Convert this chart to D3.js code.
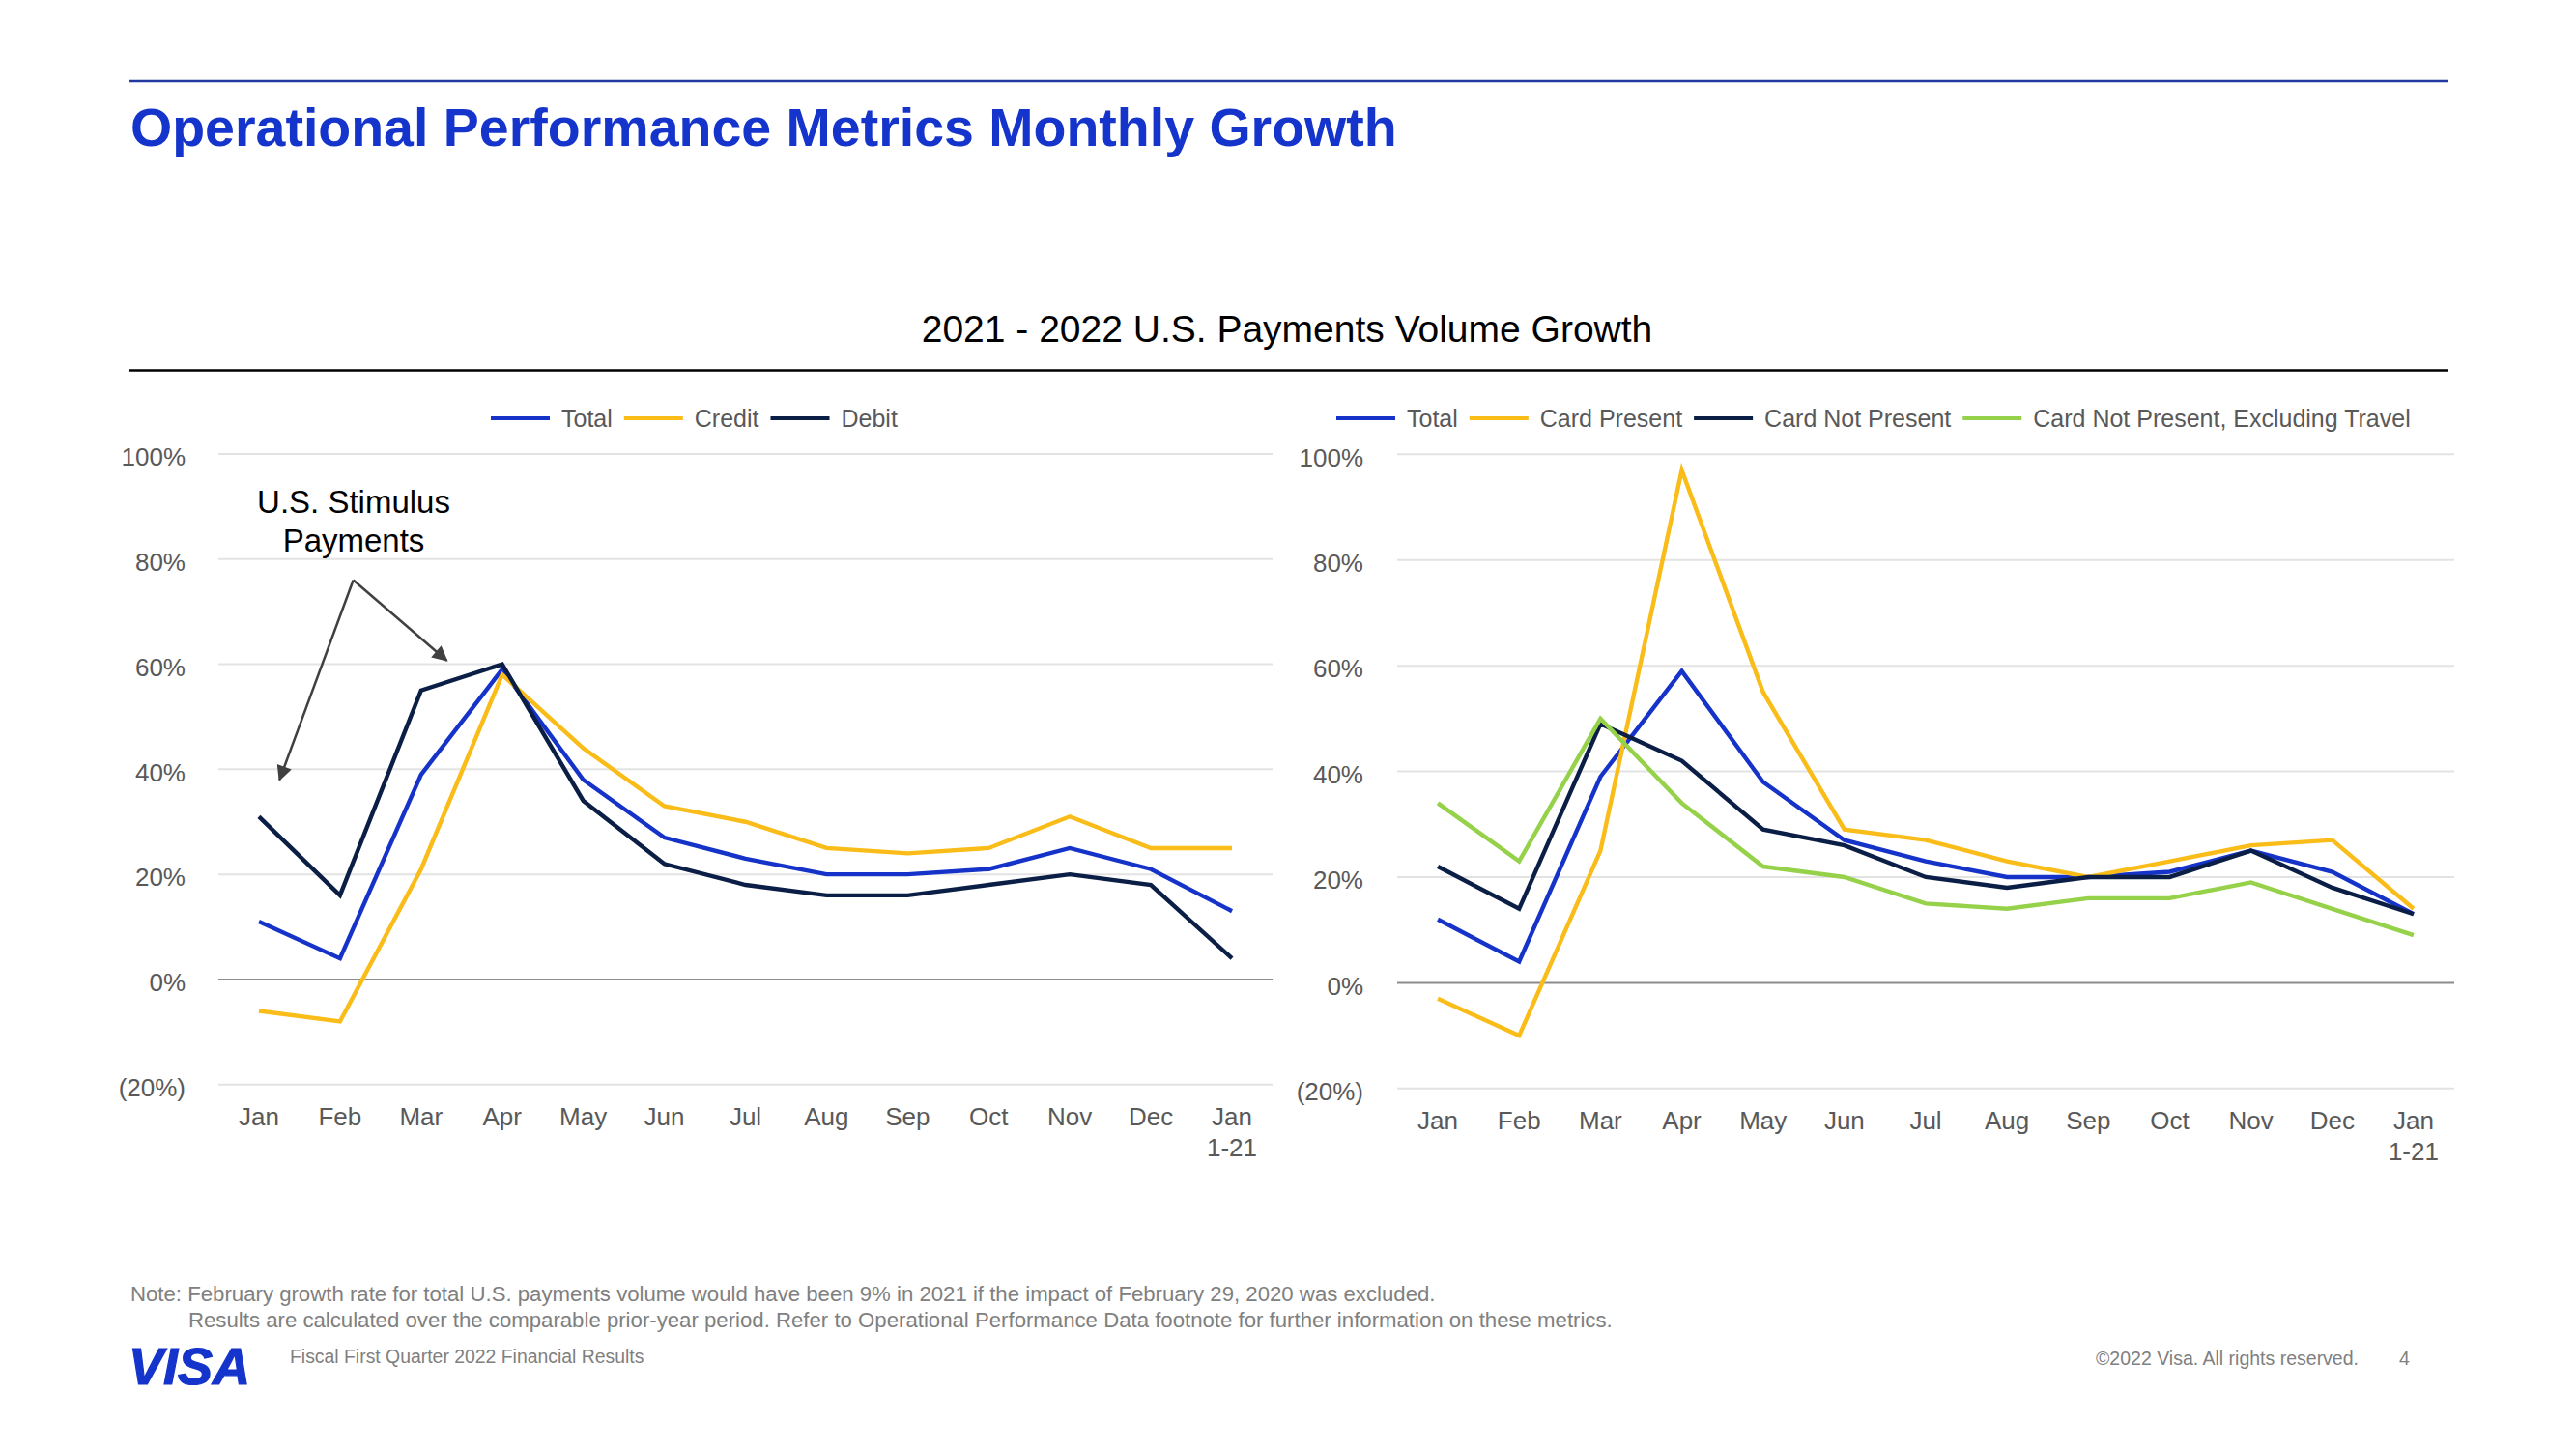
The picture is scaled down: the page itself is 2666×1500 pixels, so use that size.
<!DOCTYPE html>
<html>
<head>
<meta charset="utf-8">
<script src="https://cdn.jsdelivr.net/npm/d3@7"></script>
<style>
  html, body { margin: 0; padding: 0; background: #ffffff; }
  svg { display: block; font-family: "Liberation Sans", Arial, sans-serif; }
</style>
</head>
<body>
<svg id="chart" width="2666" height="1500"></svg>
<script>
// ---------- data ----------
const months = ["Jan", "Feb", "Mar", "Apr", "May", "Jun", "Jul", "Aug", "Sep", "Oct", "Nov", "Dec", "Jan 1-21"];
const yTicks = [-20, 0, 20, 40, 60, 80, 100];

const leftSeriesNames = ["Total", "Credit", "Debit"];
const leftTotal  = [11, 4, 39, 59, 38, 27, 23, 20, 20, 21, 25, 21, 13];
const leftCredit = [-6, -8, 21, 58, 44, 33, 30, 25, 24, 25, 31, 25, 25];
const leftDebit  = [31, 16, 55, 60, 34, 22, 18, 16, 16, 18, 20, 18, 4];

const rightSeriesNames = ["Total", "Card Present", "Card Not Present", "Card Not Present, Excluding Travel"];
const rightTotal       = [12, 4, 39, 59, 38, 27, 23, 20, 20, 21, 25, 21, 13];
const rightCardPresent = [-3, -10, 25, 97, 55, 29, 27, 23, 20, 23, 26, 27, 14];
const rightCardNotPres = [22, 14, 49, 42, 29, 26, 20, 18, 20, 20, 25, 18, 13];
const rightCNPExTravel = [34, 23, 50, 34, 22, 20, 15, 14, 16, 16, 19, 14, 9];

const colors = { total: "#1533C8", yellow: "#F9BC18", navy: "#0B1E45", green: "#96D14A" };

// ---------- helpers ----------
const svg = d3.select("#chart");
svg.append("rect").attr("width", 2666).attr("height", 1500).attr("fill", "#fff");

const fmtPct = v => v < 0 ? `(${Math.abs(v)}%)` : `${v}%`;

// header
svg.append("line").attr("x1", 134).attr("x2", 2534).attr("y1", 84).attr("y2", 84)
  .attr("stroke", "#22389E").attr("stroke-width", 2.5);
svg.append("text").attr("x", 135).attr("y", 151)
  .attr("font-size", 55.5).attr("font-weight", "bold").attr("fill", "#1434CB")
  .text("Operational Performance Metrics Monthly Growth");

svg.append("text").attr("x", 1332).attr("y", 354).attr("text-anchor", "middle")
  .attr("font-size", 39).attr("fill", "#000")
  .text("2021 - 2022 U.S. Payments Volume Growth");
svg.append("line").attr("x1", 134).attr("x2", 2534).attr("y1", 383.5).attr("y2", 383.5)
  .attr("stroke", "#000").attr("stroke-width", 2.5);

function drawChart(cfg) {
  const g = svg.append("g");
  const x = d3.scalePoint().domain(months).range([cfg.x0, cfg.x1]).padding(0.5);
  const y = d3.scaleLinear().domain([-20, 100]).range([cfg.yBottom, cfg.yTop]);

  // gridlines
  g.selectAll("line.grid").data(yTicks).join("line")
    .attr("class", "grid")
    .attr("x1", cfg.x0).attr("x2", cfg.x1)
    .attr("y1", d => y(d)).attr("y2", d => y(d))
    .attr("stroke", d => d === 0 ? "#8C8C8C" : "#E3E3E3")
    .attr("stroke-width", 2);

  // y axis labels
  const ya = g.append("g").attr("transform", `translate(${cfg.x0},0)`)
    .call(d3.axisLeft(y).tickValues(yTicks).tickFormat(fmtPct).tickSize(0).tickPadding(cfg.x0 - cfg.labelRight));
  ya.select(".domain").remove();
  ya.selectAll("text").attr("font-size", 26).attr("fill", "#595959")
    .attr("font-family", "Liberation Sans, Arial, sans-serif").attr("dy", "0.45em");

  // x labels
  const xl = g.selectAll("text.xl").data(months).join("text")
    .attr("class", "xl")
    .attr("x", d => x(d)).attr("y", cfg.yBottom + 42)
    .attr("text-anchor", "middle").attr("font-size", 26).attr("fill", "#595959");
  xl.each(function(d) {
    const parts = d.split(" ");
    const t = d3.select(this);
    parts.forEach((p, i) => t.append("tspan").attr("x", x(d)).attr("dy", i === 0 ? 0 : 32).text(p));
  });

  // lines
  const line = d3.line().x((d, i) => x(months[i])).y(d => y(d));
  cfg.series.forEach(s => {
    g.append("path").datum(s.values)
      .attr("d", line).attr("fill", "none")
      .attr("stroke", s.color).attr("stroke-width", 4.4);
  });

  // legend
  const leg = g.append("g");
  let cx = cfg.legendX;
  cfg.series.forEach(s => {
    leg.append("line").attr("x1", cx).attr("x2", cx + 61).attr("y1", 433).attr("y2", 433)
      .attr("stroke", s.color).attr("stroke-width", 4);
    cx += 61 + 12;
    const t = leg.append("text").attr("x", cx).attr("y", 442)
      .attr("font-size", 25).attr("fill", "#595959").text(s.name);
    cx += t.node().getComputedTextLength() + 12;
  });
  return { x, y };
}

const L = drawChart({
  x0: 226, x1: 1317, yTop: 470, yBottom: 1122.7, labelRight: 192, legendX: 508,
  series: [
    { name: leftSeriesNames[0], values: leftTotal, color: colors.total },
    { name: leftSeriesNames[1], values: leftCredit, color: colors.yellow },
    { name: leftSeriesNames[2], values: leftDebit, color: colors.navy }
  ]
});

drawChart({
  x0: 1446, x1: 2540, yTop: 470.3, yBottom: 1126.8, labelRight: 1411, legendX: 1383,
  series: [
    { name: rightSeriesNames[0], values: rightTotal, color: colors.total },
    { name: rightSeriesNames[1], values: rightCardPresent, color: colors.yellow },
    { name: rightSeriesNames[2], values: rightCardNotPres, color: colors.navy },
    { name: rightSeriesNames[3], values: rightCNPExTravel, color: colors.green }
  ]
});

// annotation (positioned in the left chart's data space)
const xi = i => L.x(months[0]) + i * L.x.step();
const defs = svg.append("defs");
defs.append("marker").attr("id", "arr").attr("viewBox", "0 0 10 10")
  .attr("refX", 9).attr("refY", 5).attr("markerWidth", 19).attr("markerHeight", 16)
  .attr("markerUnits", "userSpaceOnUse").attr("orient", "auto")
  .append("path").attr("d", "M0,0 L10,5 L0,10 Z").attr("fill", "#404040");
const apex = [xi(1.164), L.y(76)];
[[xi(0.254), L.y(38)], [xi(2.316), L.y(60.7)]].forEach(tip => {
  svg.append("line").attr("x1", apex[0]).attr("y1", apex[1]).attr("x2", tip[0]).attr("y2", tip[1])
    .attr("stroke", "#404040").attr("stroke-width", 2.5).attr("marker-end", "url(#arr)");
});
svg.append("text").attr("x", 366).attr("y", 531).attr("text-anchor", "middle")
  .attr("font-size", 33).attr("fill", "#000").text("U.S. Stimulus");
svg.append("text").attr("x", 366).attr("y", 571).attr("text-anchor", "middle")
  .attr("font-size", 33).attr("fill", "#000").text("Payments");

// footnotes
svg.append("text").attr("x", 135).attr("y", 1347).attr("font-size", 22.2).attr("fill", "#808080")
  .text("Note: February growth rate for total U.S. payments volume would have been 9% in 2021 if the impact of February 29, 2020 was excluded.");
svg.append("text").attr("x", 195).attr("y", 1374).attr("font-size", 22.2).attr("fill", "#808080")
  .text("Results are calculated over the comparable prior-year period. Refer to Operational Performance Data footnote for further information on these metrics.");
svg.append("text").attr("x", 133).attr("y", 1433).attr("font-size", 54).attr("font-weight", "bold")
  .attr("font-style", "italic").attr("fill", "#1434CB").attr("stroke", "#1434CB").attr("stroke-width", 1.2)
  .text("VISA");
svg.append("text").attr("x", 300).attr("y", 1411).attr("font-size", 19.4).attr("fill", "#808080")
  .text("Fiscal First Quarter 2022 Financial Results");
svg.append("text").attr("x", 2169).attr("y", 1413).attr("font-size", 19.5).attr("fill", "#808080")
  .text("©2022 Visa. All rights reserved.");
svg.append("text").attr("x", 2483).attr("y", 1413).attr("font-size", 19.5).attr("fill", "#808080")
  .text("4");
</script>
</body>
</html>
